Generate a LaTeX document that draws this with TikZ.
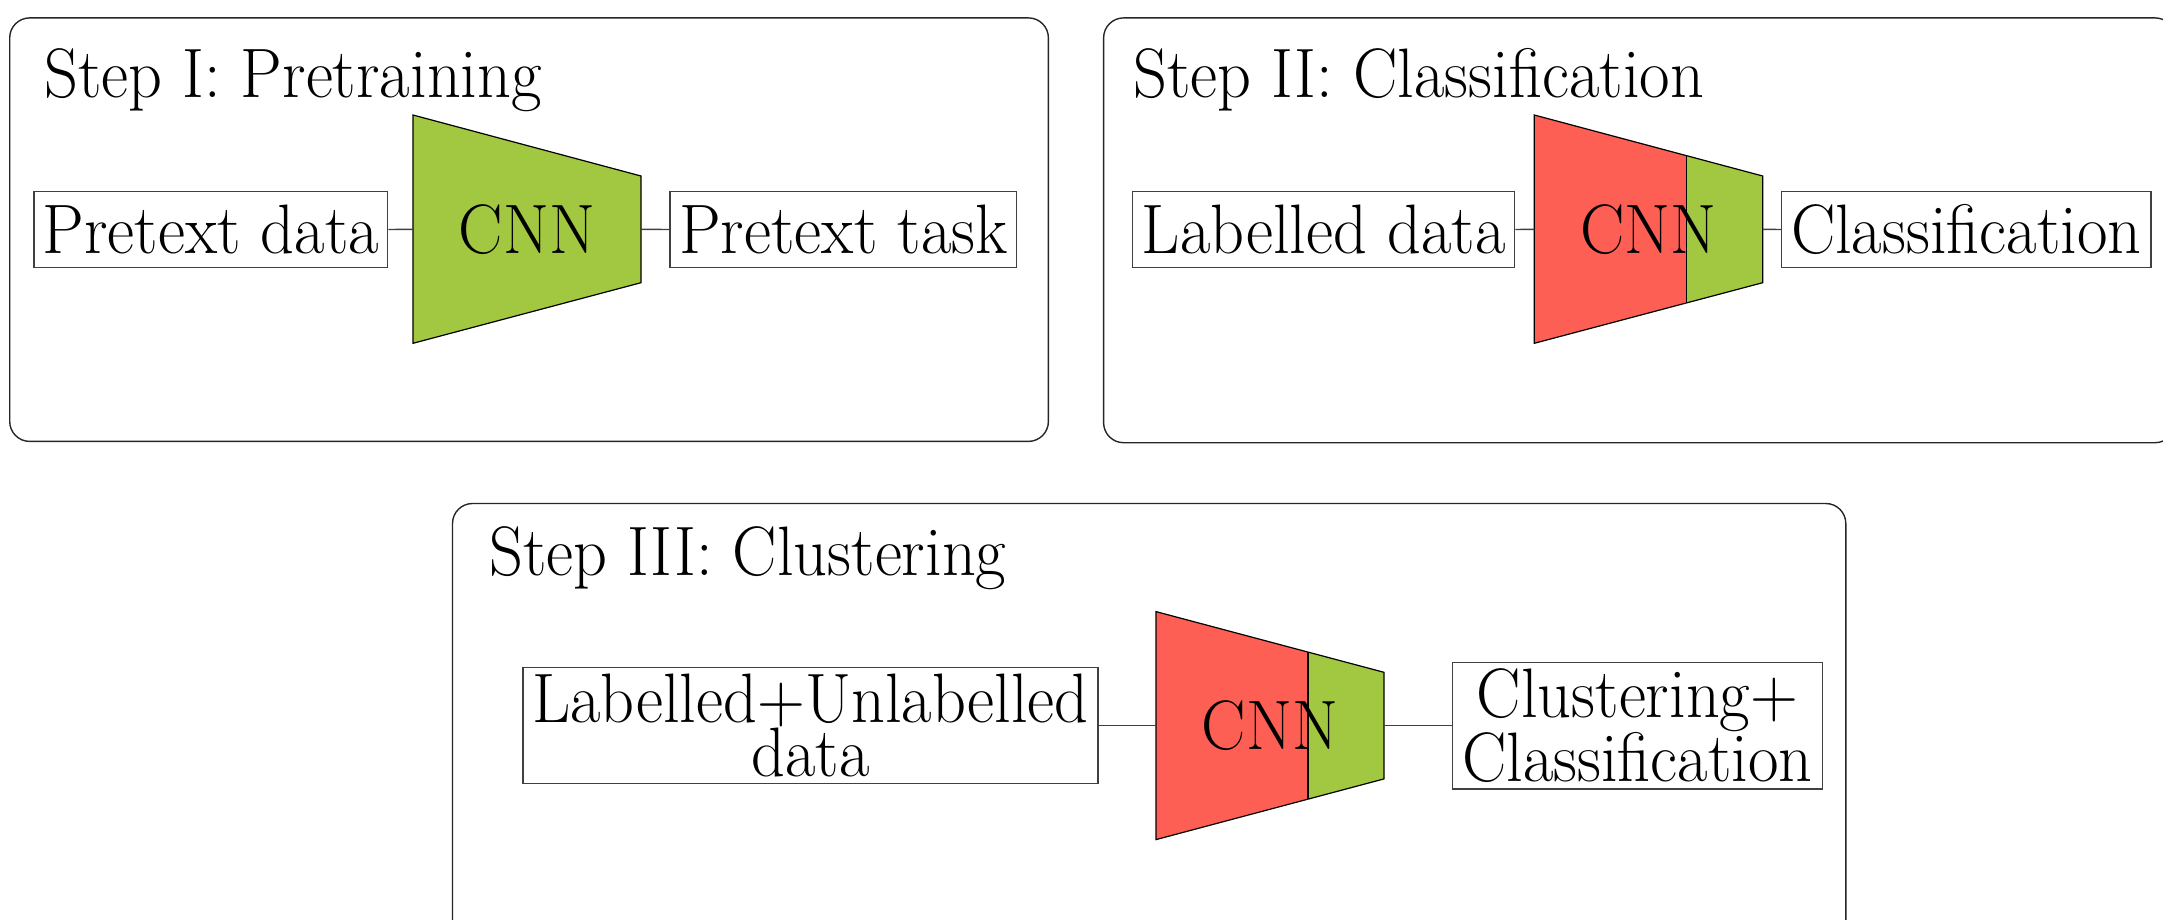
\documentclass[tikz,border=0pt]{standalone}
\usepackage{graphicx}
\definecolor{cnngreen}{RGB}{162,199,65}
\definecolor{cnnred}{RGB}{254,95,84}
\newcommand{\sqz}[1]{\scalebox{0.948}[1]{#1}}
\begin{document}
\begin{tikzpicture}[x=1pt,y=-1pt,
  panel/.style={draw=black!85, line width=1.4pt, rounded corners=20pt},
  txtbox/.style={draw=black!75, line width=1.4pt, inner sep=0pt, align=center,
    font=\fontsize{70}{52}\selectfont},
  steptitle/.style={anchor=base west, inner sep=0pt, font=\fontsize{70}{84}\selectfont},
  cnnlabel/.style={inner sep=0pt, font=\fontsize{70}{84}\selectfont},
  conn/.style={draw=black!75, line width=1.4pt},
  trapline/.style={draw=black, line width=1.2pt, line join=miter}]
\clip (0,0) rectangle (2163,919);
\useasboundingbox (0,0) rectangle (2163,919);

% panels
\draw[panel] (9.7,17.9) rectangle (1048.4,441.4);
\draw[panel] (1103.6,17.9) rectangle (2175,442.7);
\draw[panel] (452.5,503.5) rectangle (1845.8,960);

% titles
\node[steptitle] (t1) at (44,97) {\sqz{Step I: Pretraining}};
\node[steptitle] (t2) at (1133,97) {\sqz{Step II: Classification}};
\node[steptitle] (t3) at (489,575) {\sqz{Step III: Clustering}};

% ---------- Step I ----------
\fill[cnngreen] (413,115) -- (641,176) -- (641,282.7) -- (413,343.3) -- cycle;
\draw[trapline] (413,115) -- (641,176) -- (641,282.7) -- (413,343.3) -- cycle;
\coordinate (c1l) at (413,229.3);
\coordinate (c1r) at (641,229.3);
\node[cnnlabel] (c1) at (527,229.3) {\sqz{CNN}};
\node[txtbox, minimum width=353.7, minimum height=75.6] (pd) at (210.9,229.5) {\sqz{Pretext data}};
\node[txtbox, minimum width=346.7, minimum height=75.6] (pt) at (843.4,229.5) {\sqz{Pretext task}};
\draw[conn] (pd.east) -- (c1l);
\draw[conn] (c1r) -- (pt.west);

% ---------- Step II ----------
\fill[cnnred] (1534.3,115) -- (1686.7,155.8) -- (1686.7,302.8) -- (1534.3,343.3) -- cycle;
\fill[cnngreen] (1686.7,155.8) -- (1762.7,176) -- (1762.7,282.7) -- (1686.7,302.8) -- cycle;
\draw[trapline] (1534.3,115) -- (1762.7,176) -- (1762.7,282.7) -- (1534.3,343.3) -- cycle;
\draw[trapline] (1686.7,155.8) -- (1686.7,302.8);
\coordinate (c2l) at (1534.3,229.3);
\coordinate (c2r) at (1762.7,229.3);
\node[cnnlabel] (c2) at (1648.5,229.3) {\sqz{CNN}};
\node[txtbox, minimum width=382, minimum height=75.6] (ld) at (1323.7,229.5) {\sqz{Labelled data}};
\node[txtbox, minimum width=369.3, minimum height=75.6] (cl) at (1966.3,229.5) {\sqz{Classification}};
\draw[conn] (ld.east) -- (c2l);
\draw[conn] (c2r) -- (cl.west);

% ---------- Step III ----------
\fill[cnnred] (1156,611.6) -- (1308,652.2) -- (1308,799) -- (1156,839.6) -- cycle;
\fill[cnngreen] (1308,652.2) -- (1384,672.3) -- (1384,778.9) -- (1308,799) -- cycle;
\draw[trapline] (1156,611.6) -- (1384,672.3) -- (1384,778.9) -- (1156,839.6) -- cycle;
\draw[trapline] (1308,652.2) -- (1308,799);
\coordinate (c3l) at (1156,725.6);
\coordinate (c3r) at (1384,725.6);
\node[cnnlabel] (c3) at (1270,725.6) {\sqz{CNN}};
\node[txtbox, minimum width=575.2, minimum height=115.9] (lu) at (810.4,725.6) {\sqz{Labelled+Unlabelled}\\\sqz{data}};
\node[txtbox, minimum width=369.7, minimum height=126.8] (cc) at (1637.5,725.6) {\sqz{Clustering+}\\\sqz{Classification}};
\draw[conn] (lu.east) -- (c3l);
\draw[conn] (c3r) -- (cc.west);
\end{tikzpicture}
\end{document}
